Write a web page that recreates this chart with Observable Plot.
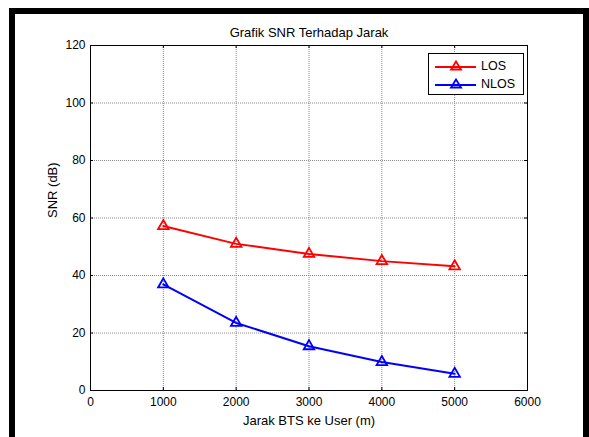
<!DOCTYPE html>
<html>
<head>
<meta charset="utf-8">
<script src="https://cdn.jsdelivr.net/npm/d3@7"></script>
<script src="https://cdn.jsdelivr.net/npm/@observablehq/plot@0.6"></script>
<style>
  body { margin: 0; background: #fff; font-family: "Liberation Sans", Arial, sans-serif; }
  #wrap { position: relative; width: 589px; height: 437px; overflow: hidden; background: #fff; }
  #border { position: absolute; left: 9px; top: 8px; width: 580px; height: 460px; border: 6px solid #000; box-sizing: border-box; pointer-events: none; }
  #chart { position: absolute; left: 0; top: 0; }
  #legend { position: absolute; left: 428px; top: 53px; width: 96px; height: 42px; border: 1px solid #000; background: #fff; box-sizing: border-box; font-size: 12.5px; }
  .row { position: absolute; left: 0; height: 14px; }
  .row svg { position: absolute; left: 6px; top: 0; }
  .row span { position: absolute; left: 52px; top: 0; line-height: 15px; color: #000; }
</style>
</head>
<body>
<div id="wrap">
  <div id="chart"></div>
  <div id="border"></div>
  <div id="legend"></div>
</div>
<script>
const titleText = "Grafik SNR Terhadap Jarak";
const xLabel = "Jarak BTS ke User (m)";
const yLabel = "SNR (dB)";
const distance = [1000, 2000, 3000, 4000, 5000];
const losSNR = [57.2, 51.0, 47.5, 45.0, 43.2];
const nlosSNR = [36.9, 23.5, 15.4, 9.9, 5.8];
const xTicks = [0, 1000, 2000, 3000, 4000, 5000, 6000];
const yTicks = [0, 20, 40, 60, 80, 100, 120];
const seriesNames = ["LOS", "NLOS"];
const seriesColors = ["#ff0000", "#0000ff"];

const data = [
  ...distance.map((d, i) => ({x: d, y: losSNR[i], s: seriesNames[0]})),
  ...distance.map((d, i) => ({x: d, y: nlosSNR[i], s: seriesNames[1]}))
];

const W = 589, H = 437, mL = 90, mR = 62, mT = 45, mB = 47;
const innerH = H - mT - mB, innerW = W - mL - mR;
const gridStyle = {stroke: "#8a8a8a", strokeOpacity: 1, strokeDasharray: "1,1", strokeWidth: 1};

const chart = Plot.plot({
  width: W, height: H,
  marginLeft: mL, marginRight: mR, marginTop: mT, marginBottom: mB,
  style: {fontFamily: "'Liberation Sans', Arial, sans-serif", fontSize: "12px", background: "transparent", color: "#000"},
  x: {domain: [0, 6000]},
  y: {domain: [0, 120]},
  color: {domain: seriesNames, range: seriesColors},
  marks: [
    Plot.gridX(xTicks, gridStyle),
    Plot.gridY(yTicks, gridStyle),
    Plot.tickX(xTicks, {x: d => d, insetTop: innerH - 3, stroke: "#000"}),
    Plot.tickX(xTicks, {x: d => d, insetBottom: innerH - 3, stroke: "#000"}),
    Plot.tickY(yTicks, {y: d => d, insetRight: innerW - 3, stroke: "#000"}),
    Plot.tickY(yTicks, {y: d => d, insetLeft: innerW - 3, stroke: "#000"}),
    Plot.axisX(xTicks, {tickSize: 0, tickPadding: 7, label: null, tickFormat: d => String(d), fontSize: 12}),
    Plot.axisY(yTicks, {tickSize: 0, tickPadding: 5, label: null, tickFormat: d => String(d), fontSize: 12}),
    Plot.frame({stroke: "#000", strokeWidth: 1}),
    Plot.line(data, {x: "x", y: "y", z: "s", stroke: "s", strokeWidth: 2}),
    Plot.dot(data, {x: "x", y: "y", stroke: "s", symbol: "triangle", r: 3.9, strokeWidth: 1.8, fill: "none"}),
    Plot.text([titleText], {frameAnchor: "top", lineAnchor: "middle", dy: -13, fontSize: 13}),
    Plot.text([xLabel], {frameAnchor: "bottom", lineAnchor: "middle", dy: 30, fontSize: 13}),
    Plot.text([yLabel], {frameAnchor: "left", dx: -38, rotate: -90, fontSize: 13})
  ]
});
document.getElementById("chart").appendChild(chart);

const legend = document.getElementById("legend");
seriesNames.forEach((name, i) => {
  const row = document.createElement("div");
  row.className = "row";
  row.style.top = (5 + i * 18) + "px";
  row.style.width = "94px";
  const color = seriesColors[i];
  row.innerHTML = `<svg width="42" height="14"><line x1="0" x2="41" y1="8" y2="8" stroke="${color}" stroke-width="2"/><path d="M21,2.5 L26,10.5 L16,10.5 Z" fill="none" stroke="${color}" stroke-width="1.8"/></svg><span>${name}</span>`;
  legend.appendChild(row);
});
</script>
</body>
</html>
